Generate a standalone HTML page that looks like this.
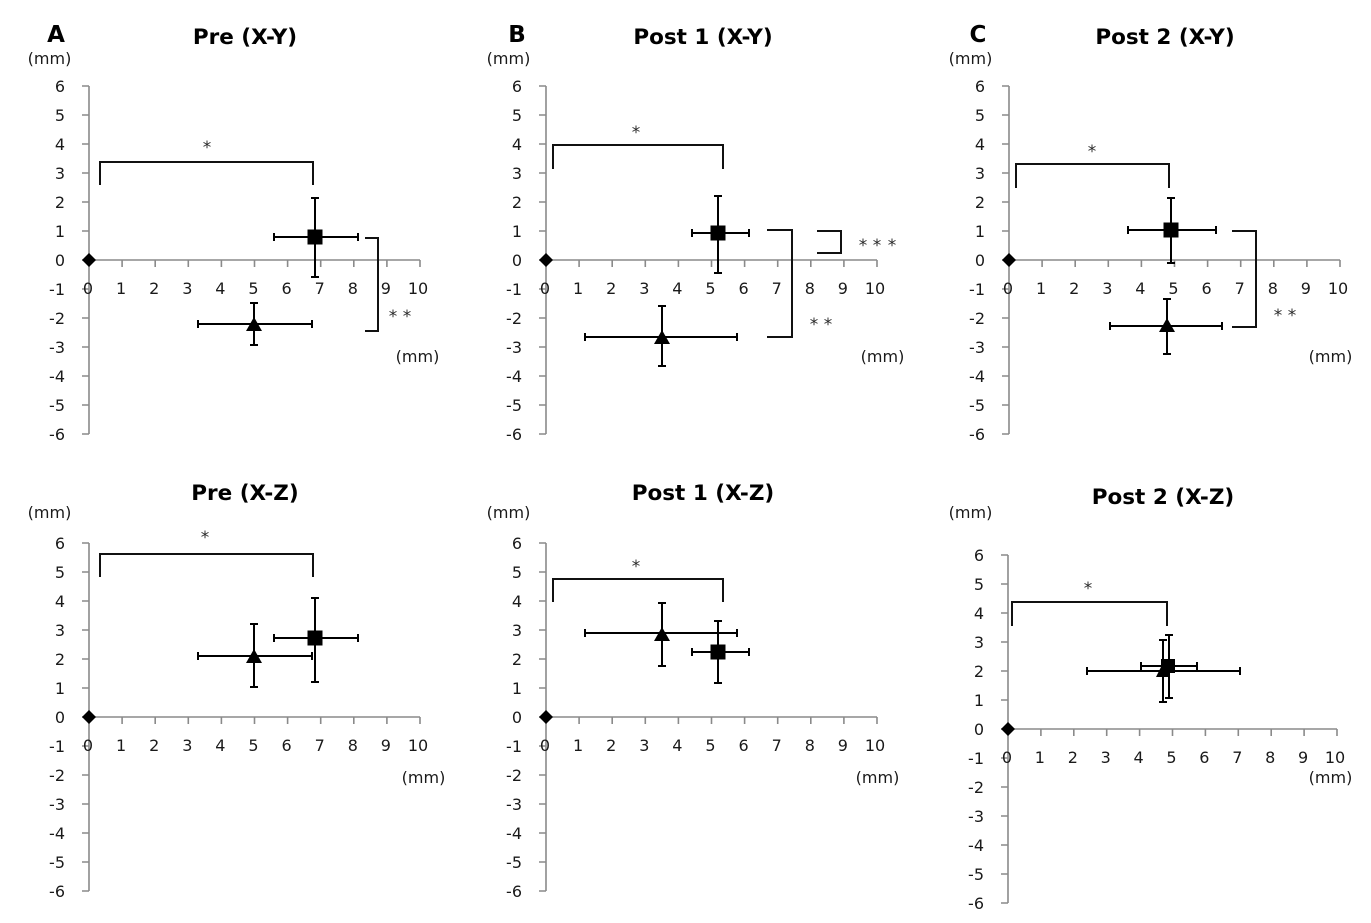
<!DOCTYPE html>
<html>
<head>
<meta charset="utf-8">
<style>
html,body{margin:0;padding:0;background:#fff;}
svg{display:block;}
.ax{stroke:#8a8a8a;stroke-width:1.6;fill:none;}
.eb{stroke:#000;stroke-width:2;fill:none;}
.br{stroke:#111;stroke-width:2;fill:none;}
text{font-family:"DejaVu Sans","Liberation Sans",sans-serif;fill:#1a1a1a;}
.yl text{font-size:16px;text-anchor:end;}
.xl text{font-size:16px;text-anchor:middle;}
.mm{font-size:16px;text-anchor:middle;}
.tt{font-size:21.5px;font-weight:bold;text-anchor:middle;fill:#000;}
.pl{font-size:23px;font-weight:bold;text-anchor:middle;fill:#000;}
.st{font-size:17px;text-anchor:middle;fill:#2a2a2a;}
</style>
</head>
<body>
<svg width="1371" height="923" viewBox="0 0 1371 923" xmlns="http://www.w3.org/2000/svg">
<rect width="1371" height="923" fill="#fff"/>

<!-- Axes groups -->
<g>
<path class="ax" d="M89,86V434M82,86H89M82,115H89M82,144H89M82,173H89M82,202H89M82,231H89M82,260H89M82,289H89M82,318H89M82,347H89M82,376H89M82,405H89M82,434H89M89,260H420M89,260v7M122.1,260v7M155.2,260v7M188.3,260v7M221.4,260v7M254.5,260v7M287.6,260v7M320.7,260v7M353.8,260v7M386.9,260v7M420,260v7"/>
<g class="yl"><text x="65" y="92">6</text><text x="65" y="121">5</text><text x="65" y="150">4</text><text x="65" y="179">3</text><text x="65" y="208">2</text><text x="65" y="237">1</text><text x="65" y="266">0</text><text x="65" y="295">-1</text><text x="65" y="324">-2</text><text x="65" y="353">-3</text><text x="65" y="382">-4</text><text x="65" y="411">-5</text><text x="65" y="440">-6</text></g>
<g class="xl"><text x="88" y="294">0</text><text x="121.1" y="294">1</text><text x="154.2" y="294">2</text><text x="187.3" y="294">3</text><text x="220.4" y="294">4</text><text x="253.5" y="294">5</text><text x="286.6" y="294">6</text><text x="319.7" y="294">7</text><text x="352.8" y="294">8</text><text x="385.9" y="294">9</text><text x="418" y="294">10</text></g>
</g>

<g transform="translate(457,0)">
<path class="ax" d="M89,86V434M82,86H89M82,115H89M82,144H89M82,173H89M82,202H89M82,231H89M82,260H89M82,289H89M82,318H89M82,347H89M82,376H89M82,405H89M82,434H89M89,260H420M89,260v7M122.1,260v7M155.2,260v7M188.3,260v7M221.4,260v7M254.5,260v7M287.6,260v7M320.7,260v7M353.8,260v7M386.9,260v7M420,260v7"/>
<g class="yl"><text x="65" y="92">6</text><text x="65" y="121">5</text><text x="65" y="150">4</text><text x="65" y="179">3</text><text x="65" y="208">2</text><text x="65" y="237">1</text><text x="65" y="266">0</text><text x="65" y="295">-1</text><text x="65" y="324">-2</text><text x="65" y="353">-3</text><text x="65" y="382">-4</text><text x="65" y="411">-5</text><text x="65" y="440">-6</text></g>
<g class="xl"><text x="88" y="294">0</text><text x="121.1" y="294">1</text><text x="154.2" y="294">2</text><text x="187.3" y="294">3</text><text x="220.4" y="294">4</text><text x="253.5" y="294">5</text><text x="286.6" y="294">6</text><text x="319.7" y="294">7</text><text x="352.8" y="294">8</text><text x="385.9" y="294">9</text><text x="418" y="294">10</text></g>
</g>

<g transform="translate(920,0)">
<path class="ax" d="M89,86V434M82,86H89M82,115H89M82,144H89M82,173H89M82,202H89M82,231H89M82,260H89M82,289H89M82,318H89M82,347H89M82,376H89M82,405H89M82,434H89M89,260H420M89,260v7M122.1,260v7M155.2,260v7M188.3,260v7M221.4,260v7M254.5,260v7M287.6,260v7M320.7,260v7M353.8,260v7M386.9,260v7M420,260v7"/>
<g class="yl"><text x="65" y="92">6</text><text x="65" y="121">5</text><text x="65" y="150">4</text><text x="65" y="179">3</text><text x="65" y="208">2</text><text x="65" y="237">1</text><text x="65" y="266">0</text><text x="65" y="295">-1</text><text x="65" y="324">-2</text><text x="65" y="353">-3</text><text x="65" y="382">-4</text><text x="65" y="411">-5</text><text x="65" y="440">-6</text></g>
<g class="xl"><text x="88" y="294">0</text><text x="121.1" y="294">1</text><text x="154.2" y="294">2</text><text x="187.3" y="294">3</text><text x="220.4" y="294">4</text><text x="253.5" y="294">5</text><text x="286.6" y="294">6</text><text x="319.7" y="294">7</text><text x="352.8" y="294">8</text><text x="385.9" y="294">9</text><text x="418" y="294">10</text></g>
</g>

<g transform="translate(0,457)">
<path class="ax" d="M89,86V434M82,86H89M82,115H89M82,144H89M82,173H89M82,202H89M82,231H89M82,260H89M82,289H89M82,318H89M82,347H89M82,376H89M82,405H89M82,434H89M89,260H420M89,260v7M122.1,260v7M155.2,260v7M188.3,260v7M221.4,260v7M254.5,260v7M287.6,260v7M320.7,260v7M353.8,260v7M386.9,260v7M420,260v7"/>
<g class="yl"><text x="65" y="92">6</text><text x="65" y="121">5</text><text x="65" y="150">4</text><text x="65" y="179">3</text><text x="65" y="208">2</text><text x="65" y="237">1</text><text x="65" y="266">0</text><text x="65" y="295">-1</text><text x="65" y="324">-2</text><text x="65" y="353">-3</text><text x="65" y="382">-4</text><text x="65" y="411">-5</text><text x="65" y="440">-6</text></g>
<g class="xl"><text x="88" y="294">0</text><text x="121.1" y="294">1</text><text x="154.2" y="294">2</text><text x="187.3" y="294">3</text><text x="220.4" y="294">4</text><text x="253.5" y="294">5</text><text x="286.6" y="294">6</text><text x="319.7" y="294">7</text><text x="352.8" y="294">8</text><text x="385.9" y="294">9</text><text x="418" y="294">10</text></g>
</g>

<g transform="translate(457,457)">
<path class="ax" d="M89,86V434M82,86H89M82,115H89M82,144H89M82,173H89M82,202H89M82,231H89M82,260H89M82,289H89M82,318H89M82,347H89M82,376H89M82,405H89M82,434H89M89,260H420M89,260v7M122.1,260v7M155.2,260v7M188.3,260v7M221.4,260v7M254.5,260v7M287.6,260v7M320.7,260v7M353.8,260v7M386.9,260v7M420,260v7"/>
<g class="yl"><text x="65" y="92">6</text><text x="65" y="121">5</text><text x="65" y="150">4</text><text x="65" y="179">3</text><text x="65" y="208">2</text><text x="65" y="237">1</text><text x="65" y="266">0</text><text x="65" y="295">-1</text><text x="65" y="324">-2</text><text x="65" y="353">-3</text><text x="65" y="382">-4</text><text x="65" y="411">-5</text><text x="65" y="440">-6</text></g>
<g class="xl"><text x="88" y="294">0</text><text x="121.1" y="294">1</text><text x="154.2" y="294">2</text><text x="187.3" y="294">3</text><text x="220.4" y="294">4</text><text x="253.5" y="294">5</text><text x="286.6" y="294">6</text><text x="319.7" y="294">7</text><text x="352.8" y="294">8</text><text x="385.9" y="294">9</text><text x="418" y="294">10</text></g>
</g>

<g transform="translate(919,469)">
<path class="ax" d="M89,86V434M82,86H89M82,115H89M82,144H89M82,173H89M82,202H89M82,231H89M82,260H89M82,289H89M82,318H89M82,347H89M82,376H89M82,405H89M82,434H89M89,260H418M89,260v7M121.9,260v7M154.8,260v7M187.7,260v7M220.6,260v7M253.5,260v7M286.4,260v7M319.3,260v7M352.2,260v7M385.1,260v7M418,260v7"/>
<g class="yl"><text x="65" y="92">6</text><text x="65" y="121">5</text><text x="65" y="150">4</text><text x="65" y="179">3</text><text x="65" y="208">2</text><text x="65" y="237">1</text><text x="65" y="266">0</text><text x="65" y="295">-1</text><text x="65" y="324">-2</text><text x="65" y="353">-3</text><text x="65" y="382">-4</text><text x="65" y="411">-5</text><text x="65" y="440">-6</text></g>
<g class="xl"><text x="88" y="294">0</text><text x="120.9" y="294">1</text><text x="153.8" y="294">2</text><text x="186.7" y="294">3</text><text x="219.6" y="294">4</text><text x="252.5" y="294">5</text><text x="285.4" y="294">6</text><text x="318.3" y="294">7</text><text x="351.2" y="294">8</text><text x="384.1" y="294">9</text><text x="416" y="294">10</text></g>
</g>

<!-- Titles & labels -->
<text class="pl" x="56" y="42">A</text>
<text class="pl" x="517" y="42">B</text>
<text class="pl" x="978" y="42">C</text>
<text class="tt" x="245" y="44">Pre (X-Y)</text>
<text class="tt" x="703" y="44">Post 1 (X-Y)</text>
<text class="tt" x="1165" y="44">Post 2 (X-Y)</text>
<text class="tt" x="245" y="500">Pre (X-Z)</text>
<text class="tt" x="703" y="500">Post 1 (X-Z)</text>
<text class="tt" x="1163" y="504">Post 2 (X-Z)</text>

<text class="mm" x="49.5" y="64">(mm)</text>
<text class="mm" x="508.5" y="64">(mm)</text>
<text class="mm" x="970.5" y="64">(mm)</text>
<text class="mm" x="49.5" y="518">(mm)</text>
<text class="mm" x="508.5" y="518">(mm)</text>
<text class="mm" x="970.5" y="518">(mm)</text>
<text class="mm" x="417.5" y="362">(mm)</text>
<text class="mm" x="882.5" y="362">(mm)</text>
<text class="mm" x="1330.5" y="362">(mm)</text>
<text class="mm" x="423.5" y="783">(mm)</text>
<text class="mm" x="877.5" y="783">(mm)</text>
<text class="mm" x="1330.5" y="783">(mm)</text>

<!-- Panel A top data -->
<path class="eb" d="M274,237H358M274,233v8M358,233v8M315,198V277M311,198h8M311,277h8M198,324H312M198,320v8M312,320v8M254,303V345M250,303h8M250,345h8"/>
<rect x="307.5" y="229.5" width="15" height="15" fill="#000"/>
<polygon points="254,317 246,331 262,331" fill="#000"/>
<polygon points="89,253 96,260 89,267 82,260" fill="#000"/>
<path class="br" d="M100,185V162H313V185M365,238H378V331H365"/>
<text class="st" x="207" y="153">*</text>
<text class="st" x="393" y="322">*</text><text class="st" x="407" y="322">*</text>

<!-- Panel B top data -->
<path class="eb" d="M692,233H749M692,229v8M749,229v8M718,196V273M714,196h8M714,273h8M585,337H737M585,333v8M737,333v8M662,306V366M658,306h8M658,366h8"/>
<rect x="710.5" y="225.5" width="15" height="15" fill="#000"/>
<polygon points="662,330 654,344 670,344" fill="#000"/>
<polygon points="546,253 553,260 546,267 539,260" fill="#000"/>
<path class="br" d="M553,169V145H723V169M767,230H792V337H767M817,231H841V253H817"/>
<text class="st" x="636" y="138">*</text>
<text class="st" x="814" y="330">*</text><text class="st" x="828" y="330">*</text>
<text class="st" x="863" y="251">*</text><text class="st" x="877" y="251">*</text><text class="st" x="892" y="251">*</text>

<!-- Panel C top data -->
<path class="eb" d="M1128,230H1216M1128,226v8M1216,226v8M1171,198V263M1167,198h8M1167,263h8M1110,326H1222M1110,322v8M1222,322v8M1167,299V354M1163,299h8M1163,354h8"/>
<rect x="1163.5" y="222.5" width="15" height="15" fill="#000"/>
<polygon points="1167,318 1159,332 1175,332" fill="#000"/>
<polygon points="1009,253 1016,260 1009,267 1002,260" fill="#000"/>
<path class="br" d="M1016,188V164H1169V188M1232,231H1256V327H1232"/>
<text class="st" x="1092" y="157">*</text>
<text class="st" x="1278" y="321">*</text><text class="st" x="1292" y="321">*</text>

<!-- Panel A bottom data -->
<path class="eb" d="M274,638H358M274,634v8M358,634v8M315,598V682M311,598h8M311,682h8M198,656H312M198,652v8M312,652v8M254,624V687M250,624h8M250,687h8"/>
<polygon points="254,649 246,663 262,663" fill="#000"/>
<rect x="307.5" y="630.5" width="15" height="15" fill="#000"/>
<polygon points="89,710 96,717 89,724 82,717" fill="#000"/>
<path class="br" d="M100,577V554H313V577"/>
<text class="st" x="205" y="543">*</text>

<!-- Panel B bottom data -->
<path class="eb" d="M585,633H737M585,629v8M737,629v8M662,603V666M658,603h8M658,666h8M692,652H749M692,648v8M749,648v8M718,621V683M714,621h8M714,683h8"/>
<polygon points="662,627 654,641 670,641" fill="#000"/>
<rect x="710.5" y="644.5" width="15" height="15" fill="#000"/>
<polygon points="546,710 553,717 546,724 539,717" fill="#000"/>
<path class="br" d="M553,602V579H723V602"/>
<text class="st" x="636" y="572">*</text>

<!-- Panel C bottom data -->
<path class="eb" d="M1087,671H1240M1087,667v8M1240,667v8M1163,640V702M1159,640h8M1159,702h8M1141,666H1197M1141,662v8M1197,662v8M1169,635V698M1165,635h8M1165,698h8"/>
<polygon points="1163,663 1156,677 1170,677" fill="#000"/>
<rect x="1161" y="659" width="14" height="14" fill="#000"/>
<polygon points="1008,722 1015,729 1008,736 1001,729" fill="#000"/>
<path class="br" d="M1012,626V602H1167V626"/>
<text class="st" x="1088" y="594">*</text>
</svg>
</body>
</html>
